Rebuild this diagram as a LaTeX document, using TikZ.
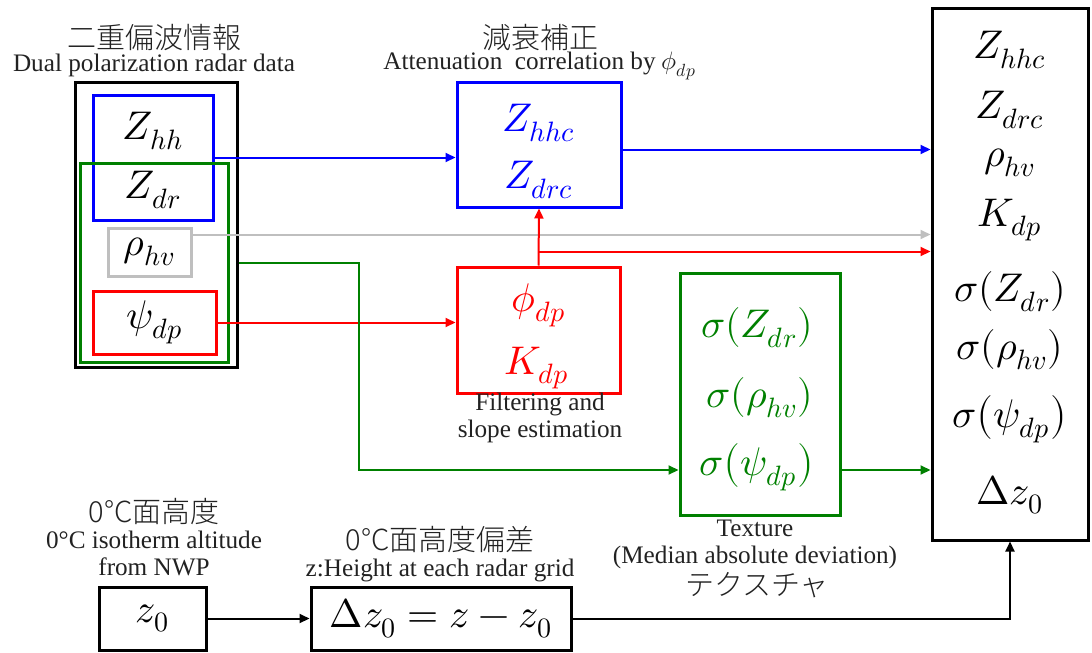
\documentclass[tikz,border=0pt]{standalone}
\usepackage{fontspec}
\usepackage{unicode-math}
\setmainfont{Liberation Serif}
\setmathfont{Latin Modern Math}
\newfontfamily\jpfont{Noto Sans CJK JP Light}
\usetikzlibrary{arrows.meta,calc,positioning}
\definecolor{rdInk}{HTML}{000000}
\definecolor{rdBlue}{HTML}{0000FF}
\definecolor{rdGreen}{HTML}{008000}
\definecolor{rdRed}{HTML}{FF0000}
\definecolor{rdGrey}{HTML}{BFBFBF}
\definecolor{rdText}{HTML}{222222}
\tikzset{
  box/.style={draw=rdInk, line width=1.5pt, inner sep=0pt},
  boxB/.style={box, draw=rdBlue},
  boxG/.style={box, draw=rdGreen},
  boxR/.style={box, draw=rdRed},
  boxS/.style={box, draw=rdGrey},
  mth/.style={font=\fontsize{20}{23}\selectfont, inner sep=0pt},
  lbl/.style={font=\fontsize{12.6}{13.5}\selectfont, text=rdText, align=center, inner sep=0pt},
  jlbl/.style={font=\jpfont\fontsize{14.5}{17}\selectfont, text=rdText, inner sep=0pt},
  arr/.style={-{Triangle[length=5pt,width=4.5pt]}, line width=1pt, draw=rdInk},
  arrB/.style={arr, draw=rdBlue},
  arrG/.style={arr, draw=rdGreen},
  arrR/.style={arr, draw=rdRed},
  arrS/.style={arr, draw=rdGrey},
}
\begin{document}
\begin{tikzpicture}[x=0.5pt, y=-0.5pt]
  \useasboundingbox (0,0) rectangle (1092,653);
  % input radar data
  \node[box, minimum width=81pt, minimum height=142.5pt] (outer) at (156,224.5) {};
  \node[boxB, minimum width=60pt, minimum height=62.5pt] (zhh) at (153,157.5) {};
  \node[boxG, minimum width=74pt, minimum height=99.5pt] (gbox) at (154,262.5) {};
  \node[mth] (zhhT) at (153,131) {$Z_{hh}$};
  \node[mth] (zdrT) at (153,190) {$Z_{dr}$};
  \node[boxS, mth, minimum width=41.5pt, minimum height=24pt] (rho) at (149.5,252) {$\rho_{hv}$};
  \node[boxR, mth, minimum width=61.5pt, minimum height=31.5pt] (psi) at (154.5,322.5) {$\psi_{dp}$};
  \node[jlbl] (jpIn) at (154,38) {二重偏波情報};
  \node[lbl] (enIn) at (154,65) {Dual polarization radar data};
  % attenuation correction
  \node[boxB, minimum width=82pt, minimum height=62.5pt] (atten) at (539,144.5) {};
  \node[mth, text=rdBlue] (zhhc) at (539,123) {$Z_{hhc}$};
  \node[mth, text=rdBlue] (zdrc) at (539,180) {$Z_{drc}$};
  \node[jlbl] (jpAtt) at (540,38) {減衰補正};
  \node[lbl] (enAtt) at (540,66) {Attenuation\ \ correlation by $\phi_{dp}$};
  % filtering
  \node[boxR, minimum width=81.5pt, minimum height=63pt] (filt) at (538.5,330) {};
  \node[mth, text=rdRed] (phiT) at (539,305) {$\phi_{dp}$};
  \node[mth, text=rdRed] (kdpT) at (537,368) {$K_{dp}$};
  \node[lbl] (enFilt) at (540,418) {Filtering and\\slope estimation};
  % texture
  \node[boxG, minimum width=80pt, minimum height=121pt] (tex) at (760,394) {};
  \node[mth, text=rdGreen] (sZdr) at (757,328) {$\sigma(Z_{dr})$};
  \node[mth, text=rdGreen] (sRho) at (760,398) {$\sigma(\rho_{hv})$};
  \node[mth, text=rdGreen] (sPsi) at (757,466) {$\sigma\big(\psi_{dp}\big)$};
  \node[lbl] (enTex) at (755,544) {Texture\\(Median absolute deviation)};
  \node[jlbl] (jpTex) at (757,585) {テクスチャ};
  % output
  \node[box, minimum width=78pt, minimum height=266pt] (out) at (1010,274) {};
  \foreach \t/\y [count=\i] in {Z_{hhc}/50, Z_{drc}/110, \rho_{hv}/163, K_{dp}/220,
      \sigma(Z_{dr})/292, \sigma(\rho_{hv})/350, \sigma\big(\psi_{dp}\big)/418, \Delta z_0/495}
    \node[mth] (o\i) at (1010,\y) {$\t$};
  % freezing level
  \node[box, mth, minimum width=53.5pt, minimum height=31.5pt] (z0) at (152.5,618.5) {$z_0$};
  \node[box, mth, minimum width=130pt, minimum height=31.5pt] (dz) at (441,618.5) {$\Delta z_0 = z - z_0$};
  \node[jlbl] (jpZ0) at (154,512) {0°C面高度};
  \node[lbl] (enZ0) at (154,553) {0°C isotherm altitude\\from NWP};
  \node[jlbl] (jpDz) at (440,540) {0°C面高度偏差};
  \node[lbl] (enDz) at (440,570) {z:Height at each radar grid};
  % connectors
  \coordinate (rbr) at ($(filt.north)+(0,-14)$);
  \coordinate (gk) at (359,470);
  \coordinate (gry) at ($(rho.north east)+(0,8)$);
  \draw[arrB] (zhh.east) -- (zhh.east -| atten.west);
  \draw[arrB] ($(atten.east)+(0,5)$) -- ($(atten.east -| out.west)+(0,5)$);
  \draw[arrS] (gry) -- (gry -| out.west);
  \draw[arrR] (psi.east) -- (psi.east -| filt.west);
  \draw[arrR] (filt.north) -- (atten.south);
  \draw[arrR] (rbr) -- (rbr -| out.west);
  \draw[arrG] (outer.east |- gbox.east) -| (gk) -- (gk -| tex.west);
  \draw[arrG] (gk -| tex.east) -- (gk -| out.west);
  \draw[arr] (z0.east) -- (dz.west);
  \draw[arr] (dz.east) -| (out.south);
\end{tikzpicture}
\end{document}
